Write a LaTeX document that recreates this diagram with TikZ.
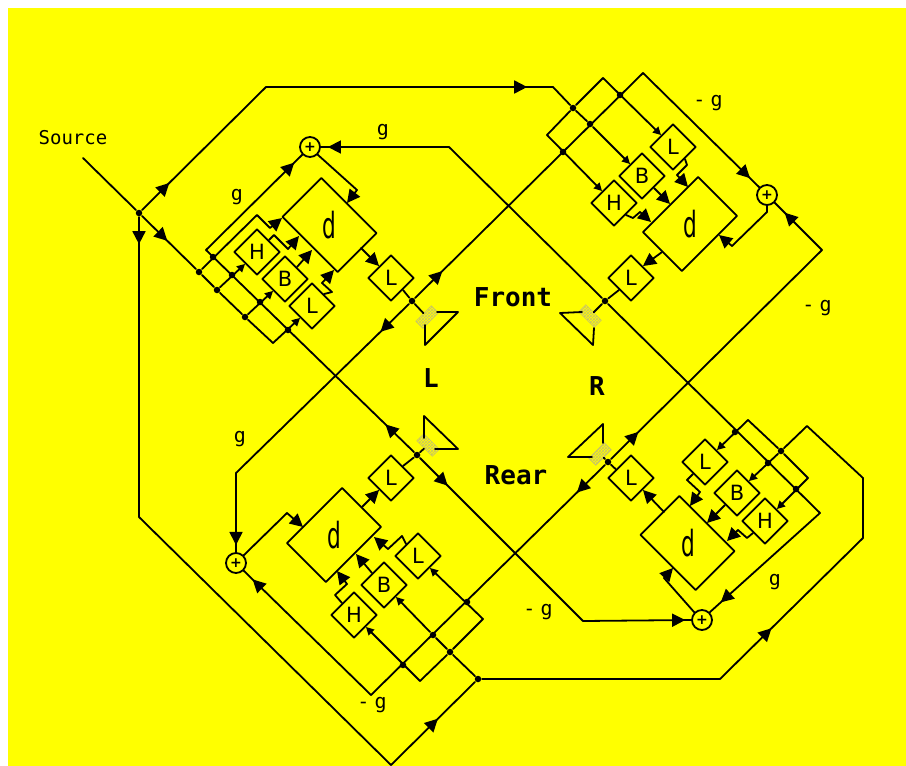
\documentclass[tikz,border=0pt]{standalone}
\usepackage{fontspec}
\usepackage{graphicx}
\setmainfont{DejaVu Sans}
\setmonofont{DejaVu Sans Mono}
\usetikzlibrary{arrows.meta,shapes.geometric,decorations.markings,patterns}
\definecolor{neckcol}{RGB}{200,195,105}
\definecolor{backcol}{RGB}{255,255,0}
\tikzset{
  filt/.style={draw,diamond,aspect=1,minimum size=46,inner sep=0,font=\fontsize{21}{21}\selectfont},
  delay/.style={draw,rectangle,minimum width=78,minimum height=55,inner sep=0},
  dtext/.style={font=\fontsize{36}{36}\selectfont},
  adder/.style={draw,circle,minimum size=20,inner sep=0,font=\fontsize{14}{14}\bfseries\selectfont},
  dot/.style={fill,circle,minimum size=6.5,inner sep=0},
  neck/.style={draw=neckcol,line width=.6,pattern=crosshatch,pattern color=neckcol,minimum width=22,minimum height=10,inner sep=0},
  gain/.style={font=\fontsize{20}{20}\ttfamily\selectfont},
  side/.style={font=\fontsize{26}{26}\ttfamily\bfseries\selectfont},
  bigtip/.style={-{Triangle[length=13,width=13]}},
  smalltip/.style={-{Triangle[length=8,width=8]}},
  tipat/.style={postaction={decorate},decoration={markings,mark=at position #1 with {\arrow{Triangle[length=13,width=13]}}}}
}
\begin{document}
\begin{tikzpicture}[x=1pt,y=-1pt,line width=1.8,line cap=round,line join=round]
  \useasboundingbox (0,0) rectangle (906,766);
  \fill[backcol] (8,8) rectangle (906,766);

  \node[font=\fontsize{19}{19}\ttfamily\selectfont] (source) at (73,138) {Source};
  \node[side] (front) at (513,297) {Front};
  \node[side] (rear) at (516,475) {Rear};
  \node[side] (left) at (431,378) {L};
  \node[side] (right) at (597,386) {R};
  \node[gain] (g1) at (383,132) {g};
  \node[gain] (g2) at (237,197) {g};
  \node[gain] (g3) at (708,103) {-\kern5pt g};
  \node[gain] (g4) at (817,308) {-\kern5pt g};
  \node[gain] (g5) at (240,439) {g};
  \node[gain] (g6) at (372,705) {-\kern5pt g};
  \node[gain] (g7) at (538,612) {-\kern5pt g};
  \node[gain] (g8) at (775,582) {g};

  \node[adder] (ptl) at (310,147) {+};
  \node[adder] (ptr) at (767,195) {+};
  \node[adder] (pbl) at (236,563) {+};
  \node[adder] (pbr) at (702,620) {+};

  \node[delay,rotate=-45] (dtl) at (329.5,225) {};
  \node[delay,rotate=45] (dtr) at (690,224) {};
  \node[delay,rotate=45] (dbl) at (334,535) {};
  \node[delay,rotate=-45] (dbr) at (687.5,543) {};
  \node[dtext] (dtlt) at (329,225) {\scalebox{.6}[1]{d}};
  \node[dtext] (dtrt) at (690,224) {\scalebox{.6}[1]{d}};
  \node[dtext] (dblt) at (334,535) {\scalebox{.6}[1]{d}};
  \node[dtext] (dbrt) at (688,543) {\scalebox{.6}[1]{d}};

  \node[filt] (Htl) at (257,252) {H};
  \node[filt] (Btl) at (285,279) {B};
  \node[filt] (Ltl) at (312,306) {L};
  \node[filt] (Otl) at (391,278) {L};
  \node[filt] (Ltr) at (673,147) {L};
  \node[filt] (Btr) at (642,176) {B};
  \node[filt] (Htr) at (614,203) {H};
  \node[filt] (Otr) at (631,278) {L};
  \node[filt] (Lbl) at (418,556) {L};
  \node[filt] (Bbl) at (384,585) {B};
  \node[filt] (Hbl) at (354,615) {H};
  \node[filt] (Obl) at (391,478) {L};
  \node[filt] (Lbr) at (705,462) {L};
  \node[filt] (Bbr) at (737,493) {B};
  \node[filt] (Hbr) at (765,521) {H};
  \node[filt] (Obr) at (631,478) {L};

  \node[neck,rotate=45] (ntl) at (427,317) {};
  \node[neck,rotate=-45] (ntr) at (590,316) {};
  \node[neck,rotate=-45] (nbl) at (428,445) {};
  \node[neck,rotate=45] (nbr) at (600,454) {};

  % junctions
  \node[dot] (src) at (139,213) {};
  \node[dot] (tl1) at (199,272) {};
  \node[dot] (tl2) at (217,290) {};
  \node[dot] (tl3) at (245,317) {};
  \node[dot] (tl4) at (213,257) {};
  \node[dot] (tl5) at (232,275) {};
  \node[dot] (tl6) at (260,302) {};
  \node[dot] (tl7) at (288,330) {};
  \node[dot] (tr1) at (573,108) {};
  \node[dot] (tr2) at (590,124) {};
  \node[dot] (tr3) at (620,95) {};
  \node[dot] (tr4) at (563,152) {};
  \node[dot] (bl1) at (478,679) {};
  \node[dot] (bl2) at (450,652) {};
  \node[dot] (bl3) at (433,635) {};
  \node[dot] (bl4) at (403,665) {};
  \node[dot] (bl5) at (467,602) {};
  \node[dot] (br1) at (781,451) {};
  \node[dot] (br2) at (735,432) {};
  \node[dot] (br3) at (768,463) {};
  \node[dot] (br4) at (796,489) {};
  \node[dot] (stl) at (412,301) {};
  \node[dot] (str) at (605,301) {};
  \node[dot] (sbl) at (417,455) {};
  \node[dot] (sbr) at (608,462) {};

  % corners
  \coordinate (in) at (83,158);
  \coordinate (c1) at (266,87);
  \coordinate (c2) at (553,87);
  \coordinate (c3) at (139,517);
  \coordinate (c4) at (391,765);
  \coordinate (c6) at (720,679);
  \coordinate (c7) at (863,538);
  \coordinate (c8) at (863,478);
  \coordinate (c9) at (807,426);
  \coordinate (tla) at (206,250);
  \coordinate (tlb) at (273,343);
  \coordinate (tlc) at (257,215);
  \coordinate (tld) at (270,228);
  \coordinate (tle) at (282,218);
  \coordinate (tlf) at (274,235);
  \coordinate (tlg) at (288,249);
  \coordinate (tlh) at (299,236);
  \coordinate (tli) at (312,250);
  \coordinate (tlj) at (332,292);
  \coordinate (tlk) at (322,283);
  \coordinate (tll) at (334,270);
  \coordinate (tlm) at (357,190);
  \coordinate (tln) at (347,203);
  \coordinate (tlo) at (361,248);
  \coordinate (tlp) at (449,147);
  \coordinate (tra) at (603,78);
  \coordinate (trb) at (547,135);
  \coordinate (trc) at (643,73);
  \coordinate (trd) at (687,165);
  \coordinate (tre) at (677,175);
  \coordinate (trf) at (688,187);
  \coordinate (trg) at (670,204);
  \coordinate (trh) at (633,218);
  \coordinate (tri) at (640,212);
  \coordinate (trj) at (651,222);
  \coordinate (trk) at (767,212);
  \coordinate (trl) at (732,246);
  \coordinate (trm) at (719,235);
  \coordinate (trn) at (822,250);
  \coordinate (bla) at (483,619);
  \coordinate (blb) at (420,681);
  \coordinate (blc) at (236,473);
  \coordinate (bld) at (287,513);
  \coordinate (ble) at (303,527);
  \coordinate (blf) at (371,695);
  \coordinate (blg) at (402,536);
  \coordinate (blh) at (388,549);
  \coordinate (bli) at (374,537);
  \coordinate (blj) at (356,554);
  \coordinate (blk) at (335,595);
  \coordinate (bll) at (347,584);
  \coordinate (blm) at (337,571);
  \coordinate (bra) at (748,420);
  \coordinate (brb) at (808,478);
  \coordinate (brc) at (820,513);
  \coordinate (brd) at (583,621);
  \coordinate (bre) at (664,578);
  \coordinate (brf) at (673,568);
  \coordinate (brg) at (687,480);
  \coordinate (brh) at (700,492);
  \coordinate (bri) at (690,506);
  \coordinate (brj) at (707,523);
  \coordinate (brk) at (747,538);
  \coordinate (brl) at (738,530);
  \coordinate (brm) at (727,541);
  \coordinate (brn) at (664,512);

  % source paths
  \draw (in) -- (src);
  \draw[tipat=.22] (src) -- (c1);
  \draw[tipat=.91] (c1) -- (c2);
  \draw (c2) -- (tr1);
  \draw[tipat=.09] (src) -- (c3);
  \draw (c3) -- (c4);
  \draw[tipat=.56] (c4) -- (bl1);
  \draw (bl1) -- (c6);
  \draw[tipat=.36] (c6) -- (c7);
  \draw (c7) -- (c8) -- (c9) -- (br1);
  \draw[tipat=.47] (src) -- (tl1);

  % front left block
  \draw (tl1) -- (tl2) -- (tl3) -- (tlb);
  \draw[smalltip] (tl2) -- (Htl.south west);
  \draw[smalltip] (tl3) -- (Btl.south west);
  \draw[smalltip] (tlb) -- (Ltl.south west);
  \draw[bigtip] (tl1) -- (tlc) -- (tld) -- (tle);
  \draw[bigtip] (Htl.north east) -- (tlf) -- (tlg) -- (tlh);
  \draw[bigtip] (Btl.north east) -- (tli);
  \draw[bigtip] (Ltl.north east) -- (tlj) -- (tlk) -- (tll);
  \draw (ptl.south east) -- (tlm);
  \draw[bigtip] (tlm) -- (tln);
  \draw[bigtip] (tlo) -- (Otl.north west);
  \draw (Otl.south east) -- (stl) -- (ntl);

  % front right block
  \draw[smalltip] (tr1) -- (tr2) -- (Btr.north west);
  \draw (tr1) -- (tra);
  \draw[smalltip] (tra) -- (Ltr.north west);
  \draw (tr1) -- (trb);
  \draw[smalltip] (trb) -- (Htr.north west);
  \draw (Ltr.south east) -- (trd) -- (tre);
  \draw[bigtip] (tre) -- (trf);
  \draw[bigtip] (Btr.south east) -- (trg);
  \draw (Htr.south east) -- (trh) -- (tri);
  \draw[bigtip] (tri) -- (trj);
  \draw (ptr.south) -- (trk) -- (trl);
  \draw[bigtip] (trl) -- (trm);
  \draw[bigtip] (dtr.west) -- (Otr.north east);
  \draw (Otr.south west) -- (str) -- (ntr);

  % rear left block
  \draw (bl1) -- (bl2) -- (bl3);
  \draw[smalltip] (bl3) -- (Bbl.south east);
  \draw (bl2) -- (bla);
  \draw[smalltip] (bla) -- (Lbl.south east);
  \draw (bl2) -- (blb);
  \draw[smalltip] (blb) -- (Hbl.south east);
  \draw (Lbl.north west) -- (blg) -- (blh);
  \draw[bigtip] (blh) -- (bli);
  \draw[bigtip] (Bbl.north west) -- (blj);
  \draw (Hbl.north west) -- (blk) -- (bll);
  \draw[bigtip] (bll) -- (blm);
  \draw (pbl.north east) -- (bld);
  \draw[bigtip] (bld) -- (ble);
  \draw[bigtip] (dbl.east) -- (Obl.south west);
  \draw (Obl.north east) -- (sbl) -- (nbl);

  % rear right block
  \draw (br1) -- (bra);
  \draw[smalltip] (bra) -- (Lbr.north east);
  \draw[smalltip] (br1) -- (Bbr.north east);
  \draw (br1) -- (brb);
  \draw[smalltip] (brb) -- (Hbr.north east);
  \draw (Lbr.south west) -- (brg) -- (brh);
  \draw[bigtip] (brh) -- (bri);
  \draw[bigtip] (Bbr.south west) -- (brj);
  \draw (Hbr.south west) -- (brk) -- (brl);
  \draw[bigtip] (brl) -- (brm);
  \draw (pbr.north west) -- (bre);
  \draw[bigtip] (bre) -- (brf);
  \draw[bigtip] (brn) -- (Obr.south east);
  \draw (Obr.150) -- (sbr) -- (nbr);

  % cross feeds
  \draw[tipat=.12] (stl) -- (trc);
  \draw[tipat=.92] (trc) -- (ptr.north west);
  \draw[tipat=.165] (stl) -- (blc);
  \draw[tipat=.91] (blc) -- (pbl.north);
  \draw[tipat=.13] (sbr) -- (trn);
  \draw[tipat=.79] (trn) -- (ptr.south east);
  \draw[tipat=.12] (sbr) -- (blf);
  \draw[tipat=.93] (blf) -- (pbl.south east);
  \draw[tipat=.137] (sbl) -- (tla);
  \draw[tipat=.92] (tla) -- (ptl.south west);
  \draw[tipat=.17] (sbl) -- (brd);
  \draw[tipat=.945] (brd) -- (pbr.west);
  \draw[tipat=.945] (tlp) -- (ptl.east);
  \draw (tlp) -- (str) -- (brc);
  \draw[tipat=.90] (brc) -- (pbr.north east);

  % loudspeakers
  \draw (ntl) ++(10,-5) -- ++(21,0) -- ++(-33,33) -- ++(0,-20);
  \draw (ntr) ++(-8,-4) -- ++(-22,1) -- ++(33,32) -- ++(1,-17);
  \draw (nbl) ++(-4,-7) -- ++(0,-22) -- ++(34,33) -- ++(-23,0);
  \draw (nbr) ++(3,-11) -- ++(0,-19) -- ++(-35,33) -- ++(24,0);
\end{tikzpicture}
\end{document}
